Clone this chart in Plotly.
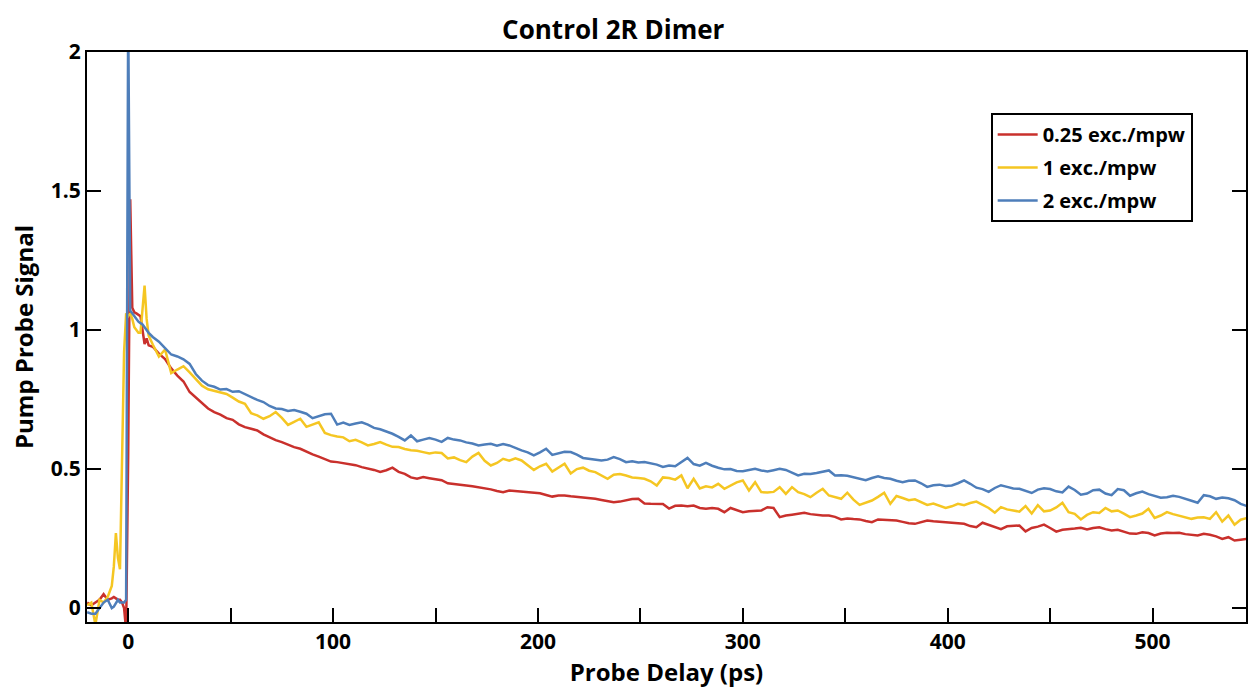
import plotly.graph_objects as go

# ---------------- data ----------------
DELAY_EARLY = [-20, -18, -16, -14, -12, -10, -8, -7, -6, -5, -4, -3, -2, -1,
               0, 1, 2, 3, 4, 5, 6, 7, 8, 9, 10]
DELAY_MAIN = [12, 15, 18, 21, 24, 27, 30, 33, 36, 39,
              42, 45, 48, 51, 54, 57, 60, 63, 66, 69,
              72, 75, 78, 81, 84, 87, 90, 93, 96, 99,
              102, 105, 108, 111, 114, 117, 120, 123, 126, 129,
              132, 135, 138, 141, 144, 147, 150, 153, 156, 159,
              162, 165, 168, 171, 174, 177, 180, 183, 186, 189,
              192, 195, 198, 201, 204, 207, 210, 213, 216, 219,
              222, 225, 228, 231, 234, 237, 240, 243, 246, 249,
              252, 255, 258, 261, 264, 267, 270, 273, 276, 279,
              282, 285, 288, 291, 294, 297, 300, 303, 306, 309,
              312, 315, 318, 321, 324, 327, 330, 333, 336, 339,
              342, 345, 348, 351, 354, 357, 360, 363, 366, 369,
              372, 375, 378, 381, 384, 387, 390, 393, 396, 399,
              402, 405, 408, 411, 414, 417, 420, 423, 426, 429,
              432, 435, 438, 441, 444, 447, 450, 453, 456, 459,
              462, 465, 468, 471, 474, 477, 480, 483, 486, 489,
              492, 495, 498, 501, 504, 507, 510, 513, 516, 519,
              522, 525, 528, 531, 534, 537, 540, 543, 546]
DELAY = DELAY_EARLY + DELAY_MAIN

SIG_025 = [0.02, 0.01, 0.02, 0.03, 0.05, 0.03, 0.035, 0.04, 0.035, 0.03,
           0.03, 0.02, 0.0, -0.08, 0.55, 1.47, 1.08, 1.064, 1.06, 1.055,
           1.05, 1.0, 0.95, 0.97, 0.945,
           0.940, 0.915, 0.896, 0.862, 0.836, 0.815, 0.777, 0.757, 0.736, 0.718,
           0.705, 0.696, 0.683, 0.677, 0.661, 0.651, 0.645, 0.639, 0.625, 0.615,
           0.604, 0.597, 0.588, 0.579, 0.573, 0.562, 0.553, 0.545, 0.537, 0.527,
           0.525, 0.522, 0.519, 0.514, 0.507, 0.503, 0.497, 0.490, 0.496, 0.505,
           0.490, 0.483, 0.470, 0.465, 0.471, 0.467, 0.464, 0.460, 0.449, 0.447,
           0.444, 0.441, 0.438, 0.435, 0.430, 0.427, 0.421, 0.417, 0.423, 0.421,
           0.420, 0.418, 0.417, 0.413, 0.407, 0.401, 0.405, 0.405, 0.402, 0.400,
           0.399, 0.397, 0.393, 0.389, 0.386, 0.381, 0.383, 0.387, 0.392, 0.393,
           0.376, 0.375, 0.375, 0.374, 0.358, 0.368, 0.369, 0.366, 0.369, 0.360,
           0.357, 0.360, 0.357, 0.345, 0.360, 0.352, 0.345, 0.348, 0.350, 0.351,
           0.363, 0.360, 0.327, 0.333, 0.336, 0.340, 0.343, 0.338, 0.335, 0.333,
           0.333, 0.328, 0.319, 0.322, 0.320, 0.319, 0.313, 0.309, 0.319, 0.317,
           0.316, 0.315, 0.310, 0.305, 0.303, 0.310, 0.315, 0.312, 0.310, 0.309,
           0.307, 0.305, 0.303, 0.295, 0.291, 0.307, 0.300, 0.292, 0.284, 0.294,
           0.296, 0.297, 0.276, 0.288, 0.293, 0.300, 0.288, 0.275, 0.282, 0.283,
           0.286, 0.289, 0.283, 0.288, 0.291, 0.284, 0.279, 0.282, 0.275, 0.268,
           0.267, 0.273, 0.270, 0.261, 0.268, 0.271, 0.270, 0.271, 0.266, 0.263,
           0.261, 0.267, 0.264, 0.258, 0.249, 0.255, 0.243, 0.246, 0.249]

SIG_1 = [0.01, 0.02, -0.06, 0.03, 0.02, 0.04, 0.08, 0.15, 0.27, 0.18,
         0.14, 0.55, 0.92, 1.06, 1.05, 1.06, 1.04, 1.01, 1.0, 0.99,
         0.99, 1.08, 1.16, 1.04, 0.98,
         0.948, 0.905, 0.930, 0.845, 0.858, 0.870, 0.848, 0.823, 0.800, 0.787,
         0.782, 0.777, 0.770, 0.757, 0.743, 0.735, 0.701, 0.693, 0.681, 0.690,
         0.705, 0.684, 0.659, 0.670, 0.681, 0.652, 0.660, 0.668, 0.630, 0.622,
         0.617, 0.614, 0.600, 0.605, 0.596, 0.585, 0.590, 0.597, 0.588, 0.580,
         0.579, 0.572, 0.568, 0.566, 0.561, 0.556, 0.560, 0.558, 0.538, 0.542,
         0.532, 0.525, 0.545, 0.558, 0.530, 0.513, 0.522, 0.537, 0.530, 0.539,
         0.531, 0.515, 0.497, 0.510, 0.519, 0.491, 0.505, 0.519, 0.484, 0.500,
         0.505, 0.494, 0.489, 0.476, 0.465, 0.480, 0.482, 0.477, 0.470, 0.468,
         0.465, 0.456, 0.441, 0.470, 0.468, 0.462, 0.477, 0.431, 0.465, 0.430,
         0.438, 0.434, 0.447, 0.429, 0.440, 0.452, 0.459, 0.423, 0.453, 0.417,
         0.416, 0.418, 0.435, 0.411, 0.435, 0.417, 0.410, 0.399, 0.415, 0.429,
         0.405, 0.399, 0.393, 0.415, 0.390, 0.371, 0.378, 0.387, 0.400, 0.415,
         0.375, 0.403, 0.396, 0.388, 0.391, 0.381, 0.371, 0.376, 0.368, 0.360,
         0.366, 0.375, 0.370, 0.378, 0.383, 0.372, 0.360, 0.343, 0.363, 0.355,
         0.350, 0.347, 0.367, 0.340, 0.370, 0.348, 0.351, 0.362, 0.379, 0.345,
         0.339, 0.319, 0.335, 0.345, 0.342, 0.360, 0.348, 0.351, 0.340, 0.327,
         0.333, 0.340, 0.357, 0.324, 0.333, 0.345, 0.338, 0.332, 0.326, 0.321,
         0.326, 0.327, 0.321, 0.345, 0.311, 0.333, 0.300, 0.318, 0.324]

SIG_2 = [-0.015, -0.02, -0.02, 0.0, 0.02, 0.03, 0.0, 0.005, 0.02, 0.03,
         0.02, 0.02, 0.02, 0.03, 2.15, 1.07, 1.06, 1.05, 1.04, 1.03,
         1.025, 1.02, 1.01, 1.0, 0.99,
         0.975, 0.958, 0.935, 0.912, 0.905, 0.895, 0.878, 0.842, 0.818, 0.802,
         0.796, 0.786, 0.788, 0.778, 0.780, 0.769, 0.760, 0.749, 0.741, 0.727,
         0.718, 0.716, 0.709, 0.712, 0.706, 0.699, 0.683, 0.690, 0.697, 0.699,
         0.660, 0.667, 0.659, 0.664, 0.668, 0.660, 0.648, 0.643, 0.636, 0.627,
         0.616, 0.603, 0.621, 0.600, 0.606, 0.612, 0.606, 0.598, 0.612, 0.606,
         0.603, 0.596, 0.592, 0.585, 0.588, 0.591, 0.584, 0.590, 0.585, 0.575,
         0.567, 0.560, 0.549, 0.560, 0.573, 0.551, 0.556, 0.562, 0.561, 0.552,
         0.540, 0.537, 0.535, 0.531, 0.534, 0.543, 0.536, 0.525, 0.528, 0.524,
         0.525, 0.521, 0.516, 0.508, 0.513, 0.510, 0.526, 0.540, 0.518, 0.512,
         0.522, 0.512, 0.505, 0.499, 0.500, 0.493, 0.492, 0.496, 0.501, 0.495,
         0.491, 0.496, 0.501, 0.497, 0.487, 0.477, 0.483, 0.482, 0.486, 0.490,
         0.495, 0.477, 0.478, 0.476, 0.470, 0.464, 0.460, 0.468, 0.474, 0.468,
         0.465, 0.458, 0.453, 0.458, 0.459, 0.449, 0.436, 0.442, 0.444, 0.439,
         0.441, 0.449, 0.459, 0.447, 0.433, 0.428, 0.418, 0.432, 0.442, 0.436,
         0.430, 0.429, 0.422, 0.414, 0.426, 0.431, 0.428, 0.420, 0.416, 0.437,
         0.425, 0.408, 0.412, 0.424, 0.426, 0.412, 0.406, 0.428, 0.424, 0.404,
         0.413, 0.419, 0.410, 0.404, 0.397, 0.399, 0.404, 0.400, 0.392, 0.386,
         0.379, 0.406, 0.402, 0.393, 0.398, 0.395, 0.388, 0.375, 0.367]

SERIES_NAMES = ["0.25 exc./mpw", "1 exc./mpw", "2 exc./mpw"]
SERIES_COLORS = ["#C9302C", "#F5C622", "#4E7EBA"]
Y_TICKS = [0, 0.5, 1, 1.5, 2]
Y_TICK_TEXT = ["0", "0.5", "1", "1.5", "2"]
X_TICKS = [0, 100, 200, 300, 400, 500]

# ---------------- figure ----------------
FONT = "Open Sans"
fig = go.Figure()
for i, (name, ys, col) in enumerate(zip(SERIES_NAMES, [SIG_025, SIG_1, SIG_2], SERIES_COLORS)):
    fig.add_trace(go.Scatter(x=DELAY, y=ys, mode="lines", name=name,
                             legendgroup=f"g{i}",
                             line=dict(color=col, width=2.5)))

axis_common = dict(showline=True, linecolor="black", linewidth=2.2,
                   ticks="inside", ticklen=14, tickwidth=2, tickcolor="black",
                   showgrid=False, zeroline=False,
                   tickfont=dict(family=FONT, size=21, color="black", weight="bold"))

fig.update_xaxes(range=[-20.1, 545.6], tickvals=X_TICKS, mirror=True,
                 minor=dict(dtick=50, tick0=0, ticks="inside", ticklen=14,
                            tickwidth=2, tickcolor="black"),
                 title=dict(text="Probe Delay (ps)", standoff=8,
                            font=dict(family=FONT, size=24, color="black", weight="bold")),
                 **axis_common)
fig.update_yaxes(range=[-0.05, 2.0], tickvals=Y_TICKS, ticktext=Y_TICK_TEXT,
                 mirror="ticks",
                 title=dict(text="Pump Probe Signal", standoff=10,
                            font=dict(family=FONT, size=24, color="black", weight="bold")),
                 **axis_common)

fig.update_layout(
    width=1249, height=691,
    margin=dict(l=87, r=1, t=52, b=69),
    paper_bgcolor="white", plot_bgcolor="white",
    title=dict(text="Control 2R Dimer", x=0.491, xanchor="center",
               y=0.957, yanchor="middle", yref="container",
               font=dict(family=FONT, size=26, color="black", weight="bold")),
    legend=dict(x=0.7797, y=0.893, xanchor="left", yanchor="top",
                bordercolor="black", borderwidth=2, bgcolor="white",
                traceorder="grouped", tracegroupgap=4, itemwidth=40,
                font=dict(family=FONT, size=20, color="black", weight="bold")),
    showlegend=True,
)

fig.write_html("out.html")
